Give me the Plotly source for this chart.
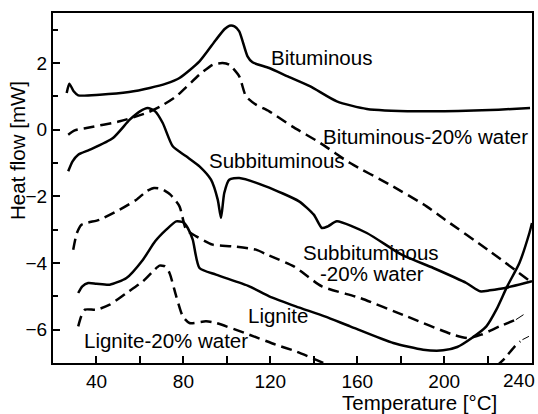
import plotly.graph_objects as go

# ---- data ----
bit_x = [26.3, 27.5, 29.5, 31.6, 41.5, 55, 64.5, 72, 78.2, 87.4, 95, 99, 101.2, 103.5, 105.7, 109.5, 111.8, 119.5, 128, 138.4, 150.6, 164.4, 187.3, 210, 225, 239.5]
bit_y = [1.1, 1.38, 1.15, 1.03, 1.05, 1.13, 1.25, 1.38, 1.55, 2.05, 2.7, 3.02, 3.12, 3.1, 2.95, 2.2, 2.02, 1.85, 1.6, 1.3, 0.85, 0.62, 0.55, 0.57, 0.6, 0.65]

bitw_x = [27, 30, 35.4, 50.7, 63, 70, 76.7, 87.4, 93.5, 98, 101.1, 105.7, 108.8, 113.4, 119.5, 130, 143, 156.7, 175, 191.9, 200.4, 220, 238.6]
bitw_y = [-0.15, -0.02, 0.05, 0.25, 0.5, 0.72, 1.0, 1.65, 1.95, 2.0, 1.95, 1.6, 1.0, 0.75, 0.55, 0.1, -0.4, -1.0, -1.65, -2.3, -2.7, -3.6, -4.5]

sub_x = [27, 29, 31.6, 37, 47.6, 55.3, 60, 63.5, 67, 70.5, 75.1, 81.3, 87.4, 92.7, 95.8, 97.3, 98.8, 101.1, 105.7, 117.9, 133.2, 140, 143.7, 146.5, 150.6, 164.4, 180.4, 195, 210.2, 216.5, 221, 228, 238.6, 240.4]
sub_y = [-1.25, -0.95, -0.75, -0.6, -0.25, 0.3, 0.55, 0.65, 0.55, 0.2, -0.5, -0.8, -1.1, -1.5, -2.1, -2.65, -1.9, -1.5, -1.45, -1.7, -2.15, -2.55, -2.95, -2.9, -2.75, -3.1, -3.75, -4.15, -4.6, -4.85, -4.82, -4.75, -4.58, -4.55]

subw_x = [29.3, 31, 33.1, 41.5, 50.7, 58.4, 63, 66.5, 70, 74, 78.2, 81.3, 85.9, 93.5, 102.6, 113.4, 118.5, 130.8, 143.7, 161.3, 182.7, 204.1, 211, 217, 225.5, 233]
subw_y = [-3.6, -3.1, -2.85, -2.7, -2.4, -2.1, -1.85, -1.75, -1.78, -1.95, -2.3, -3.0, -3.2, -3.45, -3.5, -3.6, -3.75, -4.1, -4.7, -5.05, -5.6, -6.15, -6.25, -6.15, -5.9, -5.7]

lig_x = [31.6, 33.5, 36.2, 40, 46.1, 53.8, 61.4, 67, 72.1, 76.7, 80, 82, 84.3, 87.4, 95, 110.3, 119.5, 131.7, 145, 156.7, 176.6, 190.3, 199.5, 206, 212.7, 219.4, 224, 229, 234.6, 239.2, 240.4]
lig_y = [-4.9, -4.7, -4.6, -4.62, -4.65, -4.45, -3.9, -3.35, -3.0, -2.75, -2.78, -2.95, -3.3, -4.15, -4.35, -4.7, -5.0, -5.3, -5.6, -5.9, -6.4, -6.6, -6.62, -6.52, -6.25, -5.9, -5.4, -4.7, -4.0, -3.1, -2.8]

ligw_x = [31.6, 33, 34.7, 40, 46.1, 53.8, 61.4, 66, 69, 71.5, 73.6, 76.7, 79.7, 82.8, 90.4, 95, 110.3, 122.5, 131.7, 144.5, 148, None, 224, 228, 232.5, 235]
ligw_y = [-5.9, -5.6, -5.4, -5.4, -5.25, -4.9, -4.55, -4.25, -4.08, -4.1, -4.3, -5.0, -5.6, -5.8, -5.75, -5.8, -6.15, -6.45, -6.65, -7.0, -7.1, None, -7.1, -6.85, -6.5, -6.35]

thin_sub_x = [233, 236.5]
thin_sub_y = [-5.7, -5.55]
thin_lig_x = [236, 239]
thin_lig_y = [-6.3, -6.2]

x_ticks = [40, 60, 80, 100, 120, 140, 160, 180, 200, 220, 240]
x_ticktext = ["40", "", "80", "", "120", "", "160", "", "200", "", ""]
last_x_label = "240"   # drawn shifted left so it stays inside the picture, as in the reference
y_ticks = [2, 0, -2, -4, -6]
y_minor_ticks = [3, 1, -1, -3, -5]

labels = [
    ("Bituminous", 119.6, 2.16, "left"),
    ("Bituminous-20% water", 143.4, -0.21, "left"),
    ("Subbituminous", 90.7, -0.93, "left"),
    ("Subbituminous", 166.2, -3.69, "center"),
    ("-20% water", 166.9, -4.32, "center"),
    ("Lignite", 108.6, -5.58, "left"),
    ("Lignite-20% water", 33.3, -6.33, "left"),
]

FONT = "Arial, Liberation Sans, sans-serif"
fig = go.Figure()

def add(x, y, dash=None, width=2.5):
    fig.add_trace(go.Scatter(
        x=x, y=y, mode="lines", showlegend=False, connectgaps=False, hoverinfo="skip",
        line=dict(color="black", width=width, dash=dash, shape="spline", smoothing=0.6),
    ))

add(bit_x, bit_y)
add(bitw_x, bitw_y, dash="11px,6px")
add(sub_x, sub_y)
add(subw_x, subw_y, dash="11px,6px")
add(lig_x, lig_y)
add(ligw_x, ligw_y, dash="11px,6px")
add(thin_sub_x, thin_sub_y, width=1)
add(thin_lig_x, thin_lig_y, width=1)

for text, x, y, anchor in labels:
    fig.add_annotation(x=x, y=y, text=text, showarrow=False, xanchor=anchor,
                       yanchor="middle", font=dict(family=FONT, size=20.5, color="black"))

fig.add_annotation(xref="x", yref="paper", x=234.5, y=-0.049, text=last_x_label,
                   showarrow=False, xanchor="center", yanchor="middle",
                   font=dict(family=FONT, size=19, color="black"))

fig.add_annotation(xref="paper", yref="paper", x=-0.073, y=0.606, text="Heat flow [mW]",
                   textangle=-90, showarrow=False, xanchor="center", yanchor="middle",
                   font=dict(family=FONT, size=20.5, color="black"))
fig.add_annotation(xref="paper", yref="paper", x=0.766, y=-0.114, text="Temperature [°C]",
                   showarrow=False, xanchor="center", yanchor="middle",
                   font=dict(family=FONT, size=20.5, color="black"))

fig.update_layout(
    width=538, height=414,
    margin=dict(l=53, r=6, t=13, b=51, autoexpand=False),
    paper_bgcolor="white", plot_bgcolor="white",
    font=dict(family=FONT, size=19, color="black"),
    xaxis=dict(range=[20, 240.4], tickmode="array", tickvals=x_ticks, ticktext=x_ticktext,
               ticks="inside", ticklen=7, tickwidth=1.5, tickcolor="black",
               showline=True, linecolor="black", linewidth=2, mirror=True, automargin=False,
               showgrid=False, zeroline=False, tickfont=dict(size=19)),
    yaxis=dict(range=[-7, 3.5], tickmode="array", tickvals=y_ticks,
               ticks="inside", ticklen=7, tickwidth=1.5, tickcolor="black",
               minor=dict(tickmode="array", tickvals=y_minor_ticks, ticks="inside",
                          ticklen=5, tickwidth=1.5, tickcolor="black", showgrid=False),
               showline=True, linecolor="black", linewidth=2, mirror=True, automargin=False,
               showgrid=False, zeroline=False, tickfont=dict(size=19)),
)

# remove the browser's default 8px body margin so the figure fills the window exactly
fig.write_html("out.html", config={"displayModeBar": False},
               post_script="document.body.style.margin='0';")
